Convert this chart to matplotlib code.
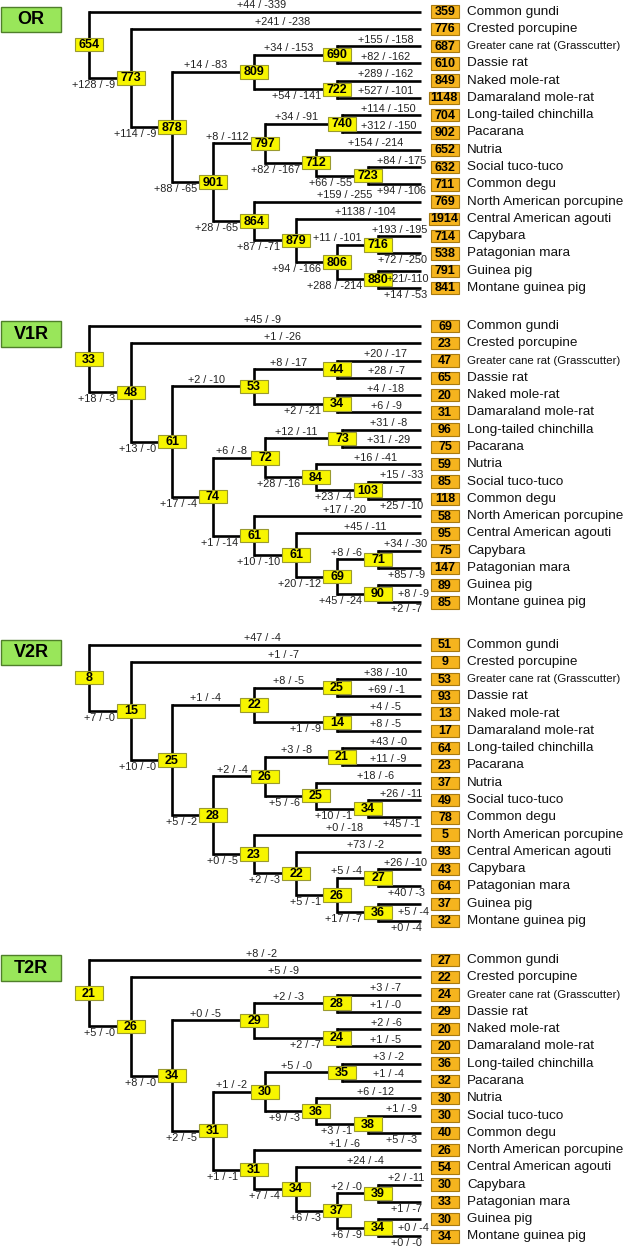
import matplotlib
matplotlib.use("Agg")
import matplotlib.pyplot as plt
from matplotlib.patches import Rectangle
from matplotlib import font_manager

plt.rcParams['font.family'] = ['Liberation Sans', 'DejaVu Sans']

# Especies (folhas, de cima para baixo)
species = ["Common gundi", "Crested porcupine", "Greater cane rat (Grasscutter)",
           "Dassie rat", "Naked mole-rat", "Damaraland mole-rat",
           "Long-tailed chinchilla", "Pacarana", "Nutria", "Social tuco-tuco",
           "Common degu", "North American porcupine", "Central American agouti",
           "Capybara", "Patagonian mara", "Guinea pig", "Montane guinea pig"]

panels = ["OR", "V1R", "V2R", "T2R"]

# contagem de genes nas folhas
leaf_count = {
    "OR": [359, 776, 687, 610, 849, 1148, 704, 902, 652, 632, 711, 769, 1914, 714, 538, 791, 841],
    "V1R": [69, 23, 47, 65, 20, 31, 96, 75, 59, 85, 118, 58, 95, 75, 147, 89, 85],
    "V2R": [51, 9, 53, 93, 13, 17, 64, 23, 37, 49, 78, 5, 93, 43, 64, 37, 32],
    "T2R": [27, 22, 24, 29, 20, 20, 36, 32, 30, 30, 40, 26, 54, 30, 33, 30, 34],
}
# contagem nos nos internos n1..n16
node_count = {
    "OR": [654, 773, 878, 809, 690, 722, 901, 797, 740, 712, 723, 864, 879, 806, 716, 880],
    "V1R": [33, 48, 61, 53, 44, 34, 74, 72, 73, 84, 103, 61, 61, 69, 71, 90],
    "V2R": [8, 15, 25, 22, 25, 14, 28, 26, 21, 25, 34, 23, 22, 26, 27, 36],
    "T2R": [21, 26, 34, 29, 28, 24, 31, 30, 35, 36, 38, 31, 34, 37, 39, 34],
}
# ganhos / perdas nos ramos terminais (ordem das especies)
leaf_gain = {
    "OR": [44, 241, 155, 82, 289, 527, 114, 312, 154, 84, 94, 159, 1138, 193, 72, 21, 14],
    "V1R": [45, 1, 20, 28, 4, 6, 31, 31, 16, 15, 25, 17, 45, 34, 85, 8, 2],
    "V2R": [47, 1, 38, 69, 4, 8, 43, 11, 18, 26, 45, 0, 73, 26, 40, 5, 0],
    "T2R": [8, 5, 3, 1, 2, 1, 3, 1, 6, 1, 5, 1, 24, 2, 1, 0, 0],
}
leaf_loss = {
    "OR": [339, 238, 158, 162, 162, 101, 150, 150, 214, 175, 106, 255, 104, 195, 250, 110, 53],
    "V1R": [9, 26, 17, 7, 18, 9, 8, 29, 41, 33, 10, 20, 11, 30, 9, 9, 7],
    "V2R": [4, 7, 10, 1, 5, 5, 0, 9, 6, 11, 1, 18, 2, 10, 3, 4, 4],
    "T2R": [2, 9, 7, 0, 6, 5, 2, 4, 12, 9, 3, 6, 4, 11, 7, 4, 0],
}
# ganhos / perdas nos ramos internos que levam a n2..n16
node_gain = {
    "OR": [128, 114, 14, 34, 54, 88, 8, 34, 82, 66, 28, 87, 94, 11, 288],
    "V1R": [18, 13, 2, 8, 2, 17, 6, 12, 28, 23, 1, 10, 20, 8, 45],
    "V2R": [7, 10, 1, 8, 1, 5, 2, 3, 5, 10, 0, 2, 5, 5, 17],
    "T2R": [5, 8, 0, 2, 2, 2, 1, 5, 9, 3, 1, 7, 6, 2, 6],
}
node_loss = {
    "OR": [9, 9, 83, 153, 141, 65, 112, 91, 167, 55, 65, 71, 166, 101, 214],
    "V1R": [3, 0, 10, 17, 21, 4, 8, 11, 16, 4, 14, 10, 12, 6, 24],
    "V2R": [0, 0, 4, 5, 9, 2, 4, 8, 6, 1, 5, 3, 1, 4, 7],
    "T2R": [0, 0, 5, 3, 7, 5, 2, 0, 3, 1, 1, 4, 3, 0, 9],
}

# topologia (igual nos quatro paineis)
children = {
    1: ["L0", 2], 2: ["L1", 3], 3: [4, 7], 4: [5, 6], 5: ["L2", "L3"],
    6: ["L4", "L5"], 7: [8, 12], 8: [9, 10], 9: ["L6", "L7"], 10: ["L8", 11],
    11: ["L9", "L10"], 12: ["L11", 13], 13: ["L12", 14], 14: [15, 16],
    15: ["L13", "L14"], 16: ["L15", "L16"],
}

# layout (pixels)
node_x = {1: 89, 2: 131, 3: 172, 4: 254, 5: 337, 6: 337, 7: 213, 8: 265, 9: 342,
          10: 316, 11: 368, 12: 254, 13: 296, 14: 337, 15: 378, 16: 378}
tip_x = 421
panel_top = [11.5, 326, 644.5, 960]
step = 17.28
below_leaves = {10, 14, 16}   # rotulos abaixo da linha
side_leaf = 15                # rotulo ao lado da caixa

BW, BH = 28, 13.5
LEAF_X = 445
YELLOW, YEDGE = "#F7F500", "#9A9A30"
ORANGE, OEDGE = "#F5B41E", "#A87A10"
GREEN, GEDGE = "#99E65A", "#4F7F2A"
LBL = 7.8

fig = plt.figure(figsize=(6.27, 12.49), dpi=100)
ax = fig.add_axes([0, 0, 1, 1])
ax.set_xlim(0, 627)
ax.set_ylim(1249, 0)
ax.axis("off")
renderer = fig.canvas.get_renderer()

names = {f.name for f in font_manager.fontManager.ttflist}
narrow = "Liberation Sans Narrow" in names


def fmt(g, l):
    return f"+{g} / -{l}"


def text_w(t):
    return t.get_window_extent(renderer).width


def centered(x0, x1, y, s, max_right, va):
    t = ax.text((x0 + x1) / 2, y, s, ha="center", va=va, fontsize=LBL, color="#222222", zorder=5)
    w = text_w(t)
    t.set_x(min((x0 + x1) / 2, max_right - w / 2))
    return t


for p, name in enumerate(panels):
    top = panel_top[p]
    ys = {}
    xs = {}
    for i in range(len(species)):
        ys["L%d" % i] = top + i * step
        xs["L%d" % i] = tip_x

    def pos(n):
        if n in ys:
            return ys[n]
        a, b = children[n]
        ys[n] = (pos(a) + pos(b)) / 2
        xs[n] = node_x[n]
        return ys[n]
    pos(1)

    # linhas
    for n, (a, b) in children.items():
        x = xs[n]
        ax.plot([x, x], [ys[a], ys[b]], color="black", lw=1.9, solid_capstyle="projecting", zorder=1)
        for c in (a, b):
            ax.plot([x, xs[c]], [ys[c], ys[c]], color="black", lw=1.9, solid_capstyle="butt", zorder=1)

    # caixas dos nos internos
    for n in children:
        ax.add_patch(Rectangle((xs[n] - BW / 2, ys[n] - BH / 2), BW, BH, facecolor=YELLOW,
                               edgecolor=YEDGE, lw=0.8, zorder=3))
        ax.text(xs[n], ys[n] + 0.5, str(node_count[name][n - 1]), ha="center", va="center",
                fontsize=9, fontweight="bold", zorder=4)

    # folhas
    for i, sp in enumerate(species):
        y = ys["L%d" % i]
        v = leaf_count[name][i]
        w = 30 if v >= 1000 else BW
        ax.add_patch(Rectangle((LEAF_X + BW / 2 - w, y - 6.2), w, 12.4, facecolor=ORANGE,
                               edgecolor=OEDGE, lw=0.8, zorder=3))
        ax.text(LEAF_X + BW / 2 - w / 2, y + 0.5, str(v), ha="center", va="center",
                fontsize=9, fontweight="bold", zorder=4)
        if "(" in sp:
            if narrow:
                ax.text(467, y, sp, ha="left", va="center", fontsize=9.8,
                        family="Liberation Sans Narrow", color="#111111")
            else:
                ax.text(467, y, sp, ha="left", va="center", fontsize=8.2, color="#111111")
        else:
            ax.text(467, y, sp, ha="left", va="center", fontsize=9.7, color="#111111")

    # rotulos de ganho / perda
    parent = {}
    for n, (a, b) in children.items():
        parent[a] = (n, 0)
        parent[b] = (n, 1)
    for i in range(len(species)):
        leaf = "L%d" % i
        par, _ = parent[leaf]
        s = fmt(leaf_gain[name][i], leaf_loss[name][i])
        y = ys[leaf]
        if i == side_leaf:
            if len(s) > 8:
                s = s.replace(" ", "")
            ax.text(429, ys[par], s, ha="right", va="center", fontsize=LBL, color="#222222", zorder=5)
        elif i in below_leaves:
            centered(xs[par] + BW / 2, tip_x, y + 2, s, 427, "top")
        else:
            centered(xs[par] + BW / 2, tip_x, y - 1.5, s, 427, "bottom")
    for n in range(2, 17):
        par, side = parent[n]
        s = fmt(node_gain[name][n - 2], node_loss[name][n - 2])
        left = xs[n] - BW / 2
        if side == 0:
            centered(xs[par], left, ys[n] - 1.5, s, left - 2, "bottom")
        else:
            ax.text(left - 2, ys[n] + 2, s, ha="right", va="top", fontsize=LBL, color="#222222", zorder=5)

    # titulo do painel
    ax.add_patch(Rectangle((1, top - 5), 60, 25.5, facecolor=GREEN, edgecolor=GEDGE, lw=1, zorder=3))
    ax.text(31, top + 8, name, ha="center", va="center", fontsize=13, fontweight="bold", zorder=4)

fig.savefig("out.png", dpi=100)
